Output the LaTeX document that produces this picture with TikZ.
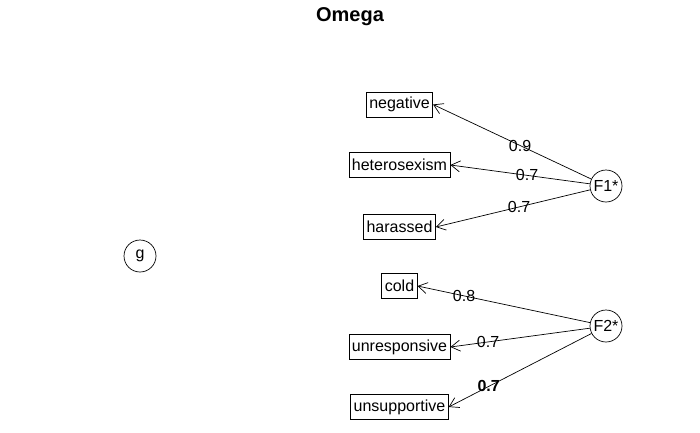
\documentclass[tikz,border=0pt]{standalone}
\usepackage{fontspec}
\setmainfont{Liberation Sans}
\usetikzlibrary{arrows.meta}
\begin{document}
\begin{tikzpicture}[x=1pt,y=-1pt,
  ind/.style={draw,line width=0.7pt,inner sep=3pt,minimum height=25pt,font=\fontsize{16}{17}\selectfont},
  lat/.style={draw,circle,line width=0.7pt,minimum size=32pt,inner sep=0pt,font=\fontsize{16}{17}\selectfont},
  load/.style={-{Straight Barb[length=9pt,width=11pt]},line width=0.7pt},
  lab/.style={font=\fontsize{16}{17}\selectfont,inner sep=0pt}]
\useasboundingbox (0,0) rectangle (700,432);
\node[font=\bfseries\fontsize{20}{22}\selectfont] (title) at (350,17) {Omega};
\node[ind] (neg) at (399.5,104.5) {negative};
\node[ind] (het) at (399.5,165) {heterosexism};
\node[ind] (har) at (399.5,227) {harassed};
\node[ind] (cold) at (399.5,286) {cold};
\node[ind] (unr) at (399.5,347) {unresponsive};
\node[ind] (uns) at (399.5,407) {unsupportive};
\node[lat] (F1) at (606,186) {F1*};
\node[lat] (F2) at (606,326) {F2*};
\node[lat] (g) at (140,256) {g};
\draw[load] (F1) -- node[lab,pos=0.45] {0.9} (neg.east);
\draw[load] (F1) -- node[lab,pos=0.45] {0.7} (het.east);
\draw[load] (F1) -- node[lab,pos=0.46] {0.7} (har.east);
\draw[load] (F2) -- node[lab,pos=0.73] {0.8} (cold.east);
\draw[load] (F2) -- node[lab,pos=0.73] {0.7} (unr.east);
\draw[load] (F2) -- node[lab,pos=0.72,font=\bfseries\fontsize{16}{17}\selectfont] {0.7} (uns.east);
\end{tikzpicture}
\end{document}
